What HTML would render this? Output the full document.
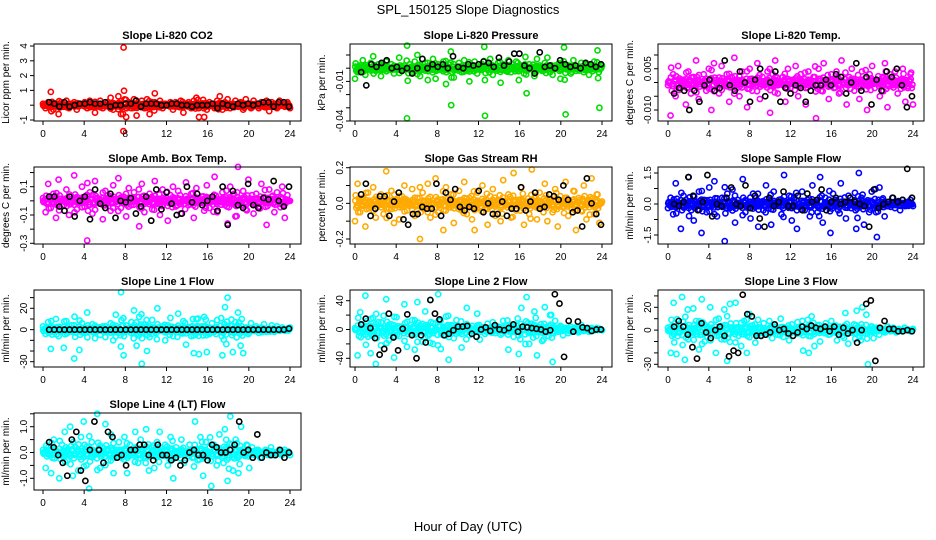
<!DOCTYPE html>
<html><head><meta charset="utf-8">
<style>
body{margin:0;background:#fff;}
svg{display:block;font-family:"Liberation Sans",sans-serif;}
</style></head>
<body>
<svg id="chart" width="936" height="540" viewBox="0 0 936 540" xmlns="http://www.w3.org/2000/svg">
<rect x="0" y="0" width="936" height="540" fill="#fff"/>
<text x="468" y="14" text-anchor="middle" font-size="13">SPL_150125  Slope Diagnostics</text>
<text x="468" y="531" text-anchor="middle" font-size="13">Hour of Day (UTC)</text>
</svg>
<script>
const xTicks=[0,4,8,12,16,20,24];
// Panel data arrays (scaled units, see scale in each panel)
const co2Color=[0.1,-0.2,0.2,0.9,-0.3,0.1,-0.6,0.2,-0.1,0.3,-0.2,0.1,0.2,-0.3,0.1,0,0.2,-0.2,0.3,-0.1,-0.5,0.1,0.3,-0.2,0,0.2,0.5,-0.3,0.1,0.6,-0.6,3.9,-0.8,0.2,-0.2,0.4,-0.7,0.1,0.3,-0.2,0.4,-0.6,0.2,0.8,-0.1,0.3,-0.2,0.1,0,0.2,-0.3,0.2,-0.1,0.3,-0.5,0.1,0.2,-0.2,0.3,0.5,-0.8,0.1,-0.8,-0.3,0.2,0.1,-0.2,0.3,0.6,-0.3,0.2,0.4,-0.2,0.1,0.3,-0.1,0.2,-0.3,0.4,0.1,-0.2,0.3,0.1,-0.2,0.2,-0.1,0.3,-0.4,0.2,0.1,-0.2,0.3,0.1,-0.1,0.2,-0.2];
const co2Black=[0.2,0.1,-0.1,0.2,-0.1,0,0.1,0.1,0.2,0.1,0.1,0.2,-0.1,0,0,0.1,0.1,0.3,-0.1,0.1,0.1,0.1,0,0,0.1,0.1,0,0,-0.1,0,0,0,0.1,-0.2,0.1,0,-0.1,0.1,0,0.1,0,0.1,0.2,0.2,-0.1,0.2,0.2,-0.1];
const presColor=[-8,-3,2,6,-5,1,4,9,-2,3,-6,2,5,-1,3,-4,1,8,-2,2,-38,3,-3,5,10,-6,1,4,-9,2,7,-8,3,-1,5,-12,3,-28,-7,1,4,-3,6,-2,-10,2,5,-4,-1,3,-36,2,7,-5,1,4,-11,3,-2,6,-3,1,5,-9,2,-4,-19,3,1,-6,7,2,-2,4,8,-3,-5,2,1,-8,3,-35,2,-4,6,-2,1,4,-3,3,-5,2,5,-1,-30,2];
const presBlack=[-3,-13,3,1,4,6,0,1,-2,0,-4,0,7,0,3,1,3,0,9,1,0,3,2,3,5,4,1,8,2,5,11,11,2,0,-4,12,1,2,0,6,3,1,2,0,4,3,1,3];
const tempColor=[-1,-12,3,-5,6,-2,1,-8,4,-4,2,8,-6,0,3,-3,5,-10,7,1,-4,6,-1,3,-7,2,9,-2,-5,4,0,-9,5,-3,1,7,-6,2,-1,4,-11,3,8,-4,0,2,-7,5,-2,1,6,-5,3,-1,-8,4,0,2,-13,5,-3,7,1,-6,3,-2,4,-4,8,0,-8,2,5,-3,1,-6,4,-1,-10,3,6,-2,0,-5,2,7,-9,3,-1,4,-4,1,5,-7,-2,3,-8];
const tempBlack=[-4,-2,-3,-10,-3,-7,-1,1,-3,-2,8,-1,-3,4,0,-7,1,5,-5,0,4,-7,-2,-4,-1,-2,-7,-3,-1,-1,1,-1,3,2,-4,0,7,-3,2,-8,1,-3,4,2,5,-1,-9,-5];
const ambColor=[2,-8,12,-5,5,-12,15,0,-3,8,-10,3,18,-6,1,10,-4,-28,6,-9,14,2,-2,-13,7,4,-7,11,-1,16,-5,3,-11,9,-3,6,0,-18,12,-8,2,5,-6,14,-2,-10,8,1,-14,4,10,-4,7,-9,0,13,-3,5,-12,9,-1,3,-7,11,-5,2,17,-8,0,6,-3,-16,10,4,-11,24,-2,7,-6,15,1,-9,5,-4,12,-1,-17,8,3,-8,6,-2,10,-12,4,0];
const ambBlack=[3,3,-4,-7,3,-11,0,3,-13,8,-2,-5,5,-12,0,-1,2,-9,-4,3,-14,8,-6,6,-2,-10,-9,10,-1,5,-3,0,3,-7,10,-17,7,-3,-5,12,-3,-5,2,1,14,0,-4,10];
const rhColor=[-10,11,-5,3,-13,6,-2,9,-8,1,5,-6,18,-3,7,-11,2,-9,4,10,-4,-1,8,-7,3,-20,6,-3,11,-8,0,14,-5,2,-15,9,-2,5,-11,1,7,-4,12,-6,3,-9,-15,6,0,10,-3,-12,4,8,-7,2,-10,13,-1,5,-8,17,-4,2,9,-12,0,-6,19,3,-9,6,-2,11,-10,1,-5,8,-13,4,-2,12,-7,0,7,-15,3,-4,10,-9,2,14,-6,5,-11,1];
const rhBlack=[5,11,-7,-3,4,4,-7,1,6,-9,-12,-6,-6,-2,-3,-3,11,-7,6,2,8,-2,-4,-2,-3,7,-5,0,-6,-6,1,-7,-3,-3,9,-4,1,6,-3,-2,5,4,2,10,2,-5,-4,-13,14,0,-6,-12];
const sampColor=[-2,3,-5,10,-1,-12,4,2,13,-3,-8,1,6,-14,2,-4,8,-1,11,-6,0,3,-18,5,-2,7,-9,2,-1,12,-4,0,-7,5,3,-11,1,-3,9,-2,-10,6,0,2,-5,14,-1,4,-8,3,-12,0,6,-3,2,-6,9,1,-4,13,-9,3,-1,-14,5,2,-3,10,0,-7,4,-2,-1,-12,15,3,-10,1,-4,6,-2,-16,8,2,-6,-1,0,3,-2,1,-3,2,-1,1,2,-1];
const sampBlack=[0,-1,1,13,4,-3,1,14,-6,0,-1,3,8,0,-1,9,-2,4,-7,-11,3,-1,1,6,-1,-1,4,-3,5,1,2,7,-3,1,3,0,1,3,1,0,-1,-11,7,-2,0,1,3,1,2,17,3];
const l1Color=[3,-4,7,-18,2,10,-6,1,-17,8,-2,4,-27,1,-19,6,-3,16,-1,5,-8,2,-5,3,-7,1,6,-10,14,-3,35,-24,4,-1,7,18,-15,12,-32,5,-20,-7,9,-2,20,-1,3,-10,4,11,-6,2,15,-3,8,-14,1,-6,-22,10,-23,3,12,-21,-4,6,-2,9,-1,-24,21,30,-2,-21,7,16,-15,-22,2,-4,6,-1,3,-3,2,5,-2,1,4,-2,3,-1,2,-1,1,2];
const l1Black=[0,0,0,0,0,0,0,0,0,0,0,0,0,0,0,0,0,0,0,0,0,0,0,0,0,0,0,0,0,0,0,0,0,0,0,0,0,0,0,0,0,0,0,0,0,0,0,1];
const l2Color=[2,-36,24,-4,47,-10,-33,16,-48,10,-22,19,42,-15,7,-39,17,-9,4,35,-24,-3,13,-28,38,6,-17,25,-9,41,-20,2,49,-27,-8,18,-42,6,-12,13,-5,-25,2,30,-8,5,-2,22,-14,3,-6,8,-3,10,-5,4,-7,12,-2,-28,5,-10,6,-34,30,-1,45,-20,8,25,-36,3,-16,31,-4,20,-45,12,-3,5,-8,2,-5,4,-2,3,-4,6,-2,1,-3,2,-1,2,1,-1];
const l2Black=[7,15,2,-12,-35,-27,22,-11,-29,1,21,-8,-40,-8,-18,41,22,14,-8,-6,-1,4,4,5,-6,-10,0,3,-2,6,0,-1,2,7,-3,4,3,2,1,0,-3,-1,49,36,-38,12,-3,11,3,2,-2,0,0];
const l3Color=[2,-20,24,-21,5,29,-26,18,-3,19,8,-17,27,-10,-6,20,1,-20,10,-8,18,-27,23,-2,24,-5,-14,8,-20,14,4,-11,9,-5,6,-2,8,-7,3,-4,10,-6,2,-9,5,-1,7,-3,-18,2,-20,12,-14,4,-10,1,6,-4,8,-2,-9,3,-5,15,-12,1,5,17,-6,20,-3,-30,3,-7,2,-4,1,-2,3,-1,2,-2,1,-1,2,0,-1,1];
const l3Black=[3,8,3,-4,-15,-25,6,-2,-7,0,3,-5,-23,-18,-20,31,14,12,-5,-5,-4,-2,5,0,1,-3,-5,-2,3,1,4,2,1,3,-1,3,-4,2,-3,0,-11,0,23,26,-27,2,8,1,1,-1,-1,0,-1];
const l4Color=[1,-6,2,-8,5,-1,-10,3,8,-3,10,-9,2,-7,6,12,-5,-14,4,-1,15,-6,2,11,-3,7,-8,1,4,-2,6,-8,3,-1,8,-4,5,-2,9,-7,2,-6,4,8,-1,3,-5,6,-10,2,-1,5,-4,0,3,-2,12,-3,6,-9,4,-1,-13,3,-5,7,-2,9,-11,14,-7,5,-8,10,-1,3,-6,2,-1,1,-2,0,1,-1,2,-1,0,1,-1,1,0,-1];
const l4Black=[4,2,-1,-4,-9,5,8,-7,-11,1,12,1,-4,8,6,-2,-1,-5,1,1,3,3,-1,-3,3,-1,-1,-3,-2,-5,-3,0,1,-1,-1,-3,3,2,0,0,1,3,12,0,1,-2,7,-2,0,-1,-1,1,-2,0];

const cols=[{l:34,r:301,x0:43,x24:290},{l:350,r:612,x0:355,x24:602},{l:658,r:924,x0:668,x24:913}];
const rowTop=[44,167,290,413];
const panels=[
 {name:'li820-co2',title:'Slope Li-820 CO2',ylab:'Licor ppm per min.',c:0,r:0,color:'#ff0000',col:co2Color,blk:co2Black,ref:[4,46,-1,120],ticks:[-1,0,1,2,3,4],labels:['-1','','1','2','3','4']},
 {name:'li820-pressure',title:'Slope Li-820 Pressure',ylab:'kPa per min.',c:1,r:0,color:'#00dd00',col:presColor,blk:presBlack,ref:[10,55,-40,121],ticks:[10,0,-10,-20,-30,-40],labels:['','','-0.01','','','-0.04']},
 {name:'li820-temp',title:'Slope Li-820 Temp.',ylab:'degrees C per min.',c:2,r:0,color:'#ff00ff',col:tempColor,blk:tempBlack,ref:[10,55,-10,110],ticks:[10,5,0,-5,-10],labels:['','0.005','','','-0.010']},
 {name:'amb-box-temp',title:'Slope Amb. Box Temp.',ylab:'degrees C per min.',c:0,r:1,color:'#ff00ff',col:ambColor,blk:ambBlack,ref:[10,186.7,-30,243.3],ticks:[20,10,0,-10,-20,-30],labels:['','0.1','','-0.1','','-0.3']},
 {name:'gas-stream-rh',title:'Slope Gas Stream RH',ylab:'percent per min.',c:1,r:1,color:'#ffaa00',col:rhColor,blk:rhBlack,ref:[20,167.7,-20,239],ticks:[20,10,0,-10,-20],labels:['0.2','','0.0','','-0.2']},
 {name:'sample-flow',title:'Slope Sample Flow',ylab:'ml/min per min.',c:2,r:1,color:'#0000ff',col:sampColor,blk:sampBlack,ref:[15,173,-15,235],ticks:[15,7.5,0,-7.5,-15],labels:['1.5','','0.0','','-1.5']},
 {name:'line1-flow',title:'Slope Line 1 Flow',ylab:'ml/min per min.',c:0,r:2,color:'#00ffff',col:l1Color,blk:l1Black,ref:[20,308.3,-30,361.7],ticks:[30,20,10,0,-10,-20,-30],labels:['','20','','0','','','-30']},
 {name:'line2-flow',title:'Slope Line 2 Flow',ylab:'ml/min per min.',c:1,r:2,color:'#00ffff',col:l2Color,blk:l2Black,ref:[40,300.7,-40,358.3],ticks:[40,20,0,-20,-40],labels:['40','','0','','-40']},
 {name:'line3-flow',title:'Slope Line 3 Flow',ylab:'ml/min per min.',c:2,r:2,color:'#00ffff',col:l3Color,blk:l3Black,ref:[20,307.3,-30,364.3],ticks:[30,20,10,0,-10,-20,-30],labels:['','20','','0','','','-30']},
 {name:'line4-lt-flow',title:'Slope Line 4 (LT) Flow',ylab:'ml/min per min.',c:0,r:3,color:'#00ffff',col:l4Color,blk:l4Black,ref:[10,426.7,-10,478.3],ticks:[15,10,5,0,-5,-10],labels:['','1.0','','0.0','','-1.0']}
];
const bandLayers=[[0.5,0.25],[0.25,-0.45],[0.75,0.1],[0.1,-0.15]];
const NS='http://www.w3.org/2000/svg';
const svg=document.getElementById('chart');
function mk(tag,attrs,parent){const e=document.createElementNS(NS,tag);for(const k in attrs)e.setAttribute(k,attrs[k]);(parent||svg).appendChild(e);return e;}
panels.forEach(p=>{
 const C=cols[p.c];const top=rowTop[p.r];const bot=top+77;
 const g=mk('g',{});
 
 
 const xs=h=>C.x0+h*(C.x24-C.x0)/24;
 const [v1,py1,v2,py2]=p.ref;
 const ys=v=>py1+(v-v1)*(py2-py1)/(v2-v1);
 const t=mk('text',{x:(C.l+C.r)/2,y:top-5,'text-anchor':'middle','font-size':'11','font-weight':'bold'},g);
 t.textContent=p.title;
 
 
 const yl=mk('text',{x:0,y:0,'text-anchor':'middle','font-size':'10',transform:`translate(${C.l-25},${(top+bot)/2}) rotate(-90)`},g);
 yl.textContent=p.ylab;
 
 
 const pts=mk('g',{fill:'none','stroke-width':'1.6'},g);
 
 
 // dense band (scaled copies of the readings)
 bandLayers.forEach(([off,k])=>{
  p.col.forEach((v,i)=>{const h=(i+off)*24/(p.col.length);
   const c=mk('circle',{cx:xs(h),cy:ys(v*k),r:2.6,stroke:p.color},pts);
   
   });
 });
 p.col.forEach((v,i)=>{const h=i*24/(p.col.length-1);
  const c=mk('circle',{cx:xs(h),cy:ys(v),r:2.6,stroke:p.color},pts);
  
  });
 p.blk.forEach((v,i)=>{const h=0.6+i*23.3/(p.blk.length-1);
  const c=mk('circle',{cx:xs(h),cy:ys(v),r:2.6,stroke:'#000'},pts);
  
  });
 const b=mk('rect',{x:C.l,y:top,width:C.r-C.l,height:bot-top,fill:'none',stroke:'#000','stroke-width':'1'},g);
 
 
 xTicks.forEach(h=>{
  const l=mk('line',{x1:xs(h),x2:xs(h),y1:bot,y2:bot+4,stroke:'#000'},g);
  
  
  const tx=mk('text',{x:xs(h),y:bot+16,'text-anchor':'middle','font-size':'10'},g);
  tx.textContent=String(h);
  
  
 });
 p.ticks.forEach((v,i)=>{
  const y=ys(v);
  const l=mk('line',{x1:C.l-4,x2:C.l,y1:y,y2:y,stroke:'#000'},g);
  
  
  if(p.labels[i]){
   const tx=mk('text',{x:0,y:0,'text-anchor':'middle','font-size':'10',transform:`translate(${C.l-7},${y}) rotate(-90)`},g);
   tx.textContent=p.labels[i];
   
   
  }
 });
});
</script>
</body></html>
